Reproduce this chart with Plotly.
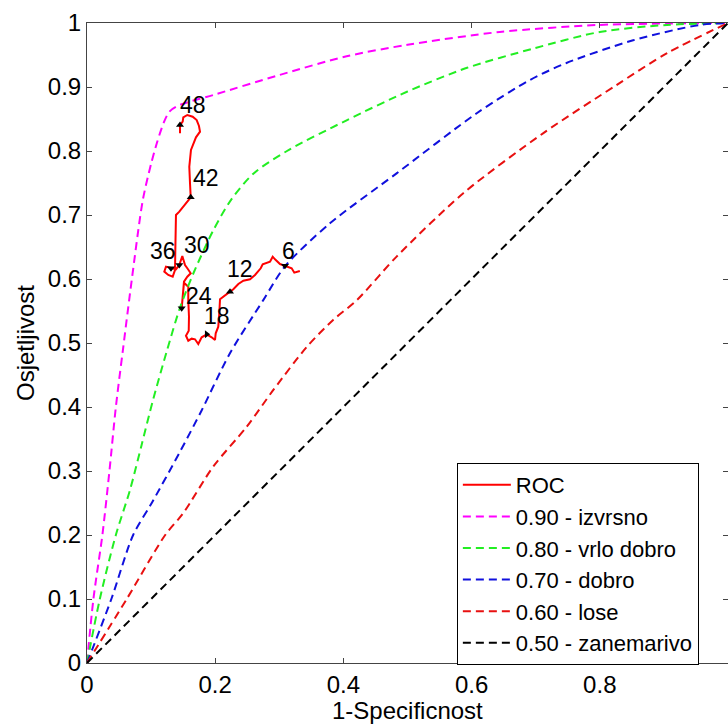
import plotly.graph_objects as go

# ---------- data ----------
ref_names = ["0.90 - izvrsno", "0.80 - vrlo dobro", "0.70 - dobro", "0.60 - lose", "0.50 - zanemarivo"]

mag_x = [0, 0.01, 0.024, 0.035, 0.045, 0.056, 0.07, 0.087, 0.1, 0.109, 0.12, 0.129, 0.145, 0.197, 0.301, 0.405, 0.5, 0.644, 0.8, 1]
mag_y = [0, 0.1, 0.2, 0.3, 0.4, 0.489, 0.6, 0.723, 0.78, 0.8125, 0.845, 0.862, 0.872, 0.8875, 0.919, 0.948, 0.966, 0.986, 0.997, 1]

grn_x = [0, 0.02, 0.045, 0.067, 0.085, 0.103, 0.125, 0.145, 0.166, 0.197, 0.225, 0.26, 0.312, 0.405, 0.5, 0.593, 0.696, 0.8, 0.905, 1]
grn_y = [0, 0.1, 0.2, 0.27, 0.34, 0.411, 0.489, 0.555, 0.609, 0.676, 0.724, 0.765, 0.80, 0.848, 0.893, 0.93, 0.96, 0.986, 0.997, 1]

blu_x = [0, 0.038, 0.072, 0.101, 0.145, 0.179, 0.223, 0.275, 0.309, 0.379, 0.483, 0.608, 0.691, 0.748, 0.852, 0.956, 1]
blu_y = [0, 0.1, 0.2, 0.25, 0.33, 0.395, 0.484, 0.567, 0.62, 0.687, 0.765, 0.859, 0.911, 0.9375, 0.973, 0.997, 1]

red_x = [0, 0.062, 0.122, 0.15, 0.197, 0.249, 0.291, 0.343, 0.384, 0.421, 0.483, 0.587, 0.712, 0.826, 0.905, 1]
red_y = [0, 0.1, 0.2, 0.234, 0.307, 0.369, 0.427, 0.494, 0.536, 0.567, 0.635, 0.734, 0.828, 0.903, 0.953, 1]

blk_x = [0, 1]
blk_y = [0, 1]

roc_x = [0.332, 0.3234, 0.3193, 0.3089, 0.3011, 0.2933, 0.2897, 0.2855, 0.2793, 0.2741, 0.2710, 0.2621,
         0.2543, 0.2439, 0.2361, 0.2283, 0.2231, 0.2137, 0.2075, 0.2064, 0.2048, 0.2008, 0.1997, 0.1945,
         0.1867, 0.1789, 0.1736, 0.1685, 0.1633, 0.1580, 0.1544, 0.1587, 0.1591, 0.1580, 0.1580, 0.1513,
         0.1493, 0.1477, 0.1502, 0.1513, 0.1565, 0.1618, 0.1565, 0.1529, 0.1487, 0.1451, 0.1440, 0.1388,
         0.1310, 0.1232, 0.1206, 0.1268, 0.1337, 0.1373, 0.1378, 0.1388, 0.1388, 0.1440, 0.1529, 0.1618,
         0.1607, 0.1596, 0.1622, 0.1700, 0.1763, 0.1747, 0.1711, 0.1649, 0.1565, 0.1502, 0.1493, 0.1451, 0.1451]
roc_y = [0.6125, 0.6099, 0.6167, 0.6208, 0.6234, 0.6308, 0.6349, 0.6271, 0.6245, 0.6229, 0.6167, 0.6063,
         0.5995, 0.5974, 0.5922, 0.5839, 0.5802, 0.5734, 0.5683, 0.5464, 0.5255, 0.5151, 0.5047, 0.5089,
         0.5136, 0.5089, 0.4984, 0.5058, 0.5068, 0.5036, 0.5114, 0.5193, 0.5411, 0.5672, 0.5880, 0.5943,
         0.5724, 0.5542, 0.5724, 0.5958, 0.6036, 0.6089, 0.6167, 0.6219, 0.6359, 0.6271, 0.6219, 0.6151,
         0.6167, 0.6193, 0.6115, 0.6063, 0.6036, 0.6141, 0.6453, 0.6714, 0.7000, 0.7052, 0.7156, 0.7276,
         0.7495, 0.7755, 0.8016, 0.8214, 0.8302, 0.8391, 0.8484, 0.8536, 0.8563, 0.8526, 0.8458, 0.8406, 0.8276]

week_labels = ["6", "12", "18", "24", "30", "36", "42", "48"]
week_x = [0.3089, 0.2231, 0.1867, 0.1477, 0.1440, 0.1310, 0.1618, 0.1451]
week_y = [0.6208, 0.5802, 0.5136, 0.5542, 0.6219, 0.6167, 0.7276, 0.8406]

x_ticks = [0, 0.2, 0.4, 0.6, 0.8, 1]
y_ticks = [0, 0.1, 0.2, 0.3, 0.4, 0.5, 0.6, 0.7, 0.8, 0.9, 1]

x_title = "1-Specificnost"
y_title = "Osjetljivost"

# ---------- styles ----------
FONT = "Liberation Sans, Arial, sans-serif"
week_symbols = ["triangle-down", "triangle-up", "triangle-right", "triangle-down",
                "triangle-down", "triangle-down", "triangle-up", "triangle-up"]
label_dx = [3, 10, 10, 17, 18, -8, 15, 13]
label_dy = [15, 23, 18, 12, 20, 17, 19, 20]
dash = "8px,5px"

fig = go.Figure()

fig.add_trace(go.Scatter(x=roc_x, y=roc_y, mode="lines", name="ROC",
                         line=dict(color="#ff0000", width=2), legendgroup="g0"))

ref_series = [(mag_x, mag_y, "#ff00ff"), (grn_x, grn_y, "#22ee22"), (blu_x, blu_y, "#1010dd"),
              (red_x, red_y, "#e81010"), (blk_x, blk_y, "#000000")]
for i, (xs, ys, col) in enumerate(ref_series):
    fig.add_trace(go.Scatter(x=xs, y=ys, mode="lines", name=ref_names[i],
                             line=dict(color=col, width=2, dash=dash, shape="spline", smoothing=0.8),
                             legendgroup=f"g{i+1}"))

fig.add_trace(go.Scatter(x=week_x, y=week_y, mode="markers", showlegend=False,
                         marker=dict(symbol=week_symbols, size=7, color="black")))

for lx, ly, lt, dx, dy in zip(week_x, week_y, week_labels, label_dx, label_dy):
    fig.add_annotation(x=lx, y=ly, text=lt, showarrow=False, xshift=dx, yshift=dy,
                       font=dict(family=FONT, size=23, color="black"))

# x-axis title placed as an annotation so it sits close under the tick labels
fig.add_annotation(x=0.5, y=-0.074, xref="paper", yref="paper", text=x_title, showarrow=False,
                   yanchor="middle", font=dict(family=FONT, size=24, color="black"))

axis_common = dict(range=[0, 1], showgrid=False, zeroline=False, showline=True,
                   linecolor="#444444", linewidth=1, mirror="ticks", ticks="inside",
                   ticklen=5, tickcolor="#444444", automargin=False,
                   tickfont=dict(family=FONT, size=24, color="black"))

fig.update_layout(
    width=728, height=724,
    margin=dict(l=87, r=0, t=23, b=61),
    paper_bgcolor="white", plot_bgcolor="white",
    xaxis=dict(**axis_common, tickvals=x_ticks, ticklabelstandoff=0),
    yaxis=dict(**axis_common, tickvals=y_ticks,
               title=dict(text=y_title, font=dict(family=FONT, size=24, color="black"), standoff=6)),
    legend=dict(x=0.577, y=0.3125, xanchor="left", yanchor="top",
                bgcolor="white", bordercolor="black", borderwidth=1,
                font=dict(family=FONT, size=22, color="black"),
                traceorder="grouped", tracegroupgap=0, itemwidth=48),
    showlegend=True,
)

fig.write_html("out.html", config={"displayModeBar": False},
               post_script="document.body.style.margin='0';document.body.style.overflow='hidden';")
